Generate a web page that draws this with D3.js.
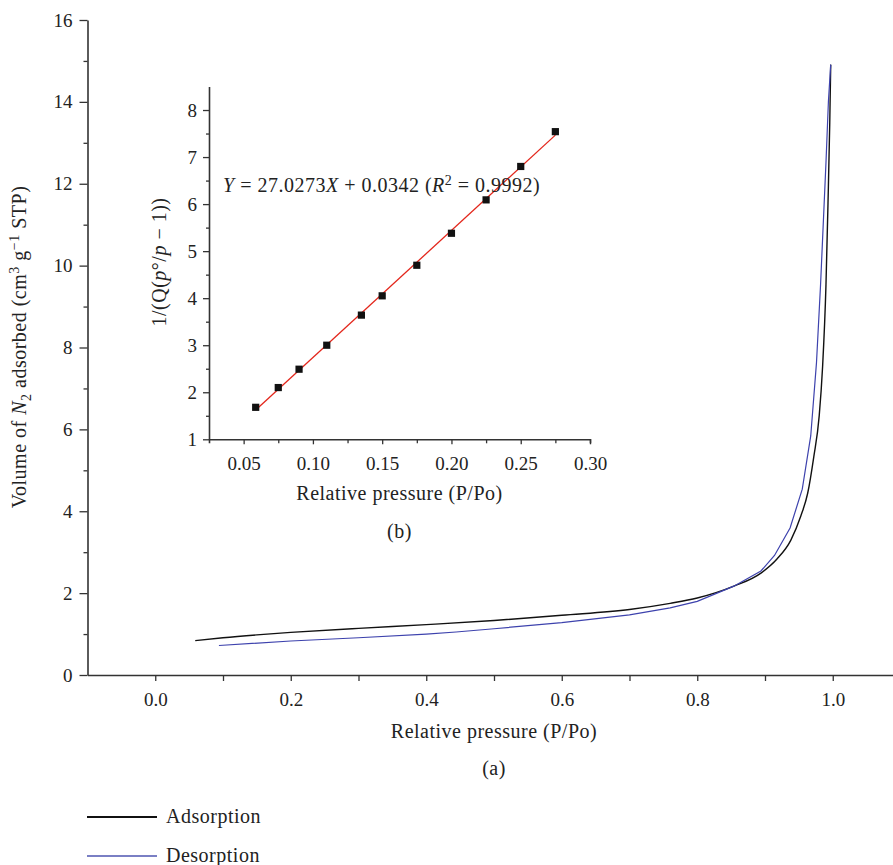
<!DOCTYPE html>
<html>
<head>
<meta charset="utf-8">
<script src="https://cdn.jsdelivr.net/npm/d3@7"></script>
<style>
  html, body { margin: 0; padding: 0; background: #fff; }
  svg { display: block; }
  text { font-family: "Liberation Serif", "DejaVu Serif", serif; fill: #222; }
  .title { letter-spacing: 0.5px; }
</style>
</head>
<body>
<svg id="chart" width="893" height="865"></svg>
<script>
// N2 adsorption isotherm (relative pressure vs adsorbed volume)
const adsPressure = [0.059, 0.10, 0.15, 0.20, 0.30, 0.40, 0.50, 0.60, 0.70, 0.76, 0.80, 0.854, 0.894, 0.918, 0.938, 0.953, 0.963, 0.972, 0.980, 0.985, 0.990, 0.993, 0.9956, 0.997];
const adsVolume   = [0.84, 0.91, 0.98, 1.04, 1.14, 1.23, 1.33, 1.46, 1.60, 1.75, 1.88, 2.17, 2.49, 2.84, 3.29, 3.89, 4.44, 5.33, 6.33, 7.53, 9.53, 11.53, 13.5, 14.91];
// desorption branch
const desPressure = [0.094, 0.20, 0.30, 0.40, 0.444, 0.50, 0.60, 0.70, 0.76, 0.80, 0.854, 0.894, 0.914, 0.937, 0.955, 0.9675, 0.976, 0.982, 0.990, 0.9936, 0.997];
const desVolume   = [0.72, 0.83, 0.91, 1.00, 1.05, 1.13, 1.28, 1.47, 1.64, 1.80, 2.17, 2.54, 2.92, 3.59, 4.54, 5.84, 7.63, 9.53, 12.52, 14.01, 14.91];

// BET plot points
const betPressure = [0.0587, 0.075, 0.09, 0.11, 0.135, 0.15, 0.175, 0.20, 0.225, 0.25, 0.275];
const betValue    = [1.68, 2.10, 2.49, 3.00, 3.64, 4.05, 4.70, 5.38, 6.09, 6.80, 7.54];
const fitSlope = 27.0273, fitIntercept = 0.0342, fitR2 = 0.9992;

const mainXTicks = [0.0, 0.1, 0.2, 0.3, 0.4, 0.5, 0.6, 0.7, 0.8, 0.9, 1.0];
const mainYTicks = [0, 2, 4, 6, 8, 10, 12, 14, 16];
const insetXTicks = [0.05, 0.10, 0.15, 0.20, 0.25, 0.30];
const insetYTicks = [1, 2, 3, 4, 5, 6, 7, 8];

const legendItems = ["Adsorption", "Desorption"];

const svg = d3.select("#chart");
const axisColor = "#333";
const adsColor = "#111";
const desColor = "#3d42ad";
const tickFont = 19;
const titleFont = 20;

// ---------- main isotherm ----------
const x = d3.scaleLinear().domain([-0.1, 1.1]).range([87.5, 900.5]);
const y = d3.scaleLinear().domain([0, 16]).range([675, 20]);

function styleAxis(g) {
  g.selectAll("path.domain").attr("stroke", axisColor).attr("stroke-width", 1.6);
  g.selectAll(".tick line").attr("stroke", axisColor).attr("stroke-width", 1.3);
  g.selectAll(".tick text").style("font-family", '"Liberation Serif", serif')
    .attr("fill", "#222").attr("font-size", tickFont);
}

// minor y ticks
svg.append("g").attr("transform", "translate(87.5,0)")
  .call(d3.axisLeft(y).tickValues(d3.range(1, 16, 2)).tickSize(4).tickFormat(""))
  .call(styleAxis).call(g => g.select("path.domain").remove());
svg.append("g").attr("transform", "translate(87.5,0)")
  .call(d3.axisLeft(y).tickValues(mainYTicks).tickSize(8).tickSizeOuter(0).tickPadding(7).tickFormat(d3.format("d")))
  .call(styleAxis);

svg.append("g").attr("transform", "translate(0,675)")
  .call(d3.axisBottom(x).tickValues(mainXTicks).tickSize(6).tickSizeOuter(0).tickPadding(12)
    .tickFormat(d => (Math.round(d * 10) % 2 === 0) ? d3.format(".1f")(d) : ""))
  .call(styleAxis);

const pts = (px, py) => px.map((p, i) => [p, py[i]]);
svg.append("path")
  .datum(pts(adsPressure, adsVolume))
  .attr("fill", "none").attr("stroke", adsColor).attr("stroke-width", 1.4)
  .attr("d", d3.line().x(d => x(d[0])).y(d => y(d[1])).curve(d3.curveMonotoneX));
svg.append("path")
  .datum(pts(desPressure, desVolume))
  .attr("fill", "none").attr("stroke", desColor).attr("stroke-width", 1.2)
  .attr("d", d3.line().x(d => x(d[0])).y(d => y(d[1])));

// main axis titles
svg.append("text").attr("class", "title").attr("x", 494).attr("y", 738).attr("text-anchor", "middle")
  .attr("font-size", titleFont).text("Relative pressure (P/Po)");
svg.append("text").attr("class", "title").attr("x", 494).attr("y", 775).attr("text-anchor", "middle")
  .attr("font-size", titleFont).text("(a)");

const yTitle = svg.append("text").attr("class", "title").attr("transform", "translate(26,347) rotate(-90)")
  .attr("text-anchor", "middle").attr("font-size", titleFont);
yTitle.append("tspan").text("Volume of ");
yTitle.append("tspan").attr("font-style", "italic").text("N");
yTitle.append("tspan").attr("font-size", 14).attr("dy", 5).text("2");
yTitle.append("tspan").attr("dy", -5).text(" adsorbed (cm");
yTitle.append("tspan").attr("font-size", 14).attr("dy", -7).text("3");
yTitle.append("tspan").attr("dy", 7).text(" g");
yTitle.append("tspan").attr("font-size", 14).attr("dy", -7).text("\u22121");
yTitle.append("tspan").attr("dy", 7).text(" STP)");

// ---------- inset BET plot ----------
const ix = d3.scaleLinear().domain([0.025, 0.30]).range([209, 590]);
const iy = d3.scaleLinear().domain([1, 8.5]).range([439.3, 86.5]);

svg.append("g").attr("transform", "translate(209,0)")
  .call(d3.axisLeft(iy).tickValues(d3.range(1.5, 8.5, 1)).tickSize(3).tickFormat(""))
  .call(styleAxis).call(g => g.select("path.domain").remove());
svg.append("g").attr("transform", "translate(209,0)")
  .call(d3.axisLeft(iy).tickValues(insetYTicks).tickSize(6).tickSizeOuter(0).tickPadding(6).tickFormat(d3.format("d")))
  .call(styleAxis);

svg.append("g").attr("transform", "translate(0,439.3)")
  .call(d3.axisBottom(ix).tickValues(d3.range(0.075, 0.3, 0.05)).tickSize(4).tickFormat(""))
  .call(styleAxis).call(g => g.select("path.domain").remove());
svg.append("g").attr("transform", "translate(0,439.3)")
  .call(d3.axisBottom(ix).tickValues(insetXTicks).tickSize(5).tickSizeOuter(4).tickPadding(12).tickFormat(d3.format(".2f")))
  .call(styleAxis);

// fitted line across the measured range
const fitX = d3.extent(betPressure);
svg.append("line")
  .attr("x1", ix(fitX[0])).attr("y1", iy(fitSlope * fitX[0] + fitIntercept))
  .attr("x2", ix(fitX[1])).attr("y2", iy(fitSlope * fitX[1] + fitIntercept))
  .attr("stroke", "#e3261b").attr("stroke-width", 1.3);

svg.append("g").selectAll("rect")
  .data(pts(betPressure, betValue))
  .join("rect")
  .attr("x", d => ix(d[0]) - 3.6).attr("y", d => iy(d[1]) - 3.6)
  .attr("width", 7.2).attr("height", 7.2).attr("fill", "#111");

const eq = svg.append("text").attr("class", "title").attr("x", 223).attr("y", 192).attr("font-size", titleFont);
eq.append("tspan").attr("font-style", "italic").text("Y");
eq.append("tspan").text(" = " + fitSlope.toFixed(4));
eq.append("tspan").attr("font-style", "italic").text("X");
eq.append("tspan").text(" + " + fitIntercept.toFixed(4) + " (");
eq.append("tspan").attr("font-style", "italic").text("R");
eq.append("tspan").attr("font-size", 14).attr("dy", -7).text("2");
eq.append("tspan").attr("dy", 7).text(" = " + fitR2.toFixed(4) + ")");

svg.append("text").attr("class", "title").attr("x", 399.5).attr("y", 500).attr("text-anchor", "middle")
  .attr("font-size", titleFont).text("Relative pressure (P/Po)");
svg.append("text").attr("class", "title").attr("x", 399.5).attr("y", 538).attr("text-anchor", "middle")
  .attr("font-size", titleFont).text("(b)");

const iyTitle = svg.append("text").attr("class", "title").attr("transform", "translate(166,262) rotate(-90)")
  .attr("text-anchor", "middle").attr("font-size", titleFont);
iyTitle.append("tspan").text("1/(Q(");
iyTitle.append("tspan").attr("font-style", "italic").text("p");
iyTitle.append("tspan").text("\u00B0/");
iyTitle.append("tspan").attr("font-style", "italic").text("p");
iyTitle.append("tspan").text(" \u2212 1))");

// ---------- legend ----------
const legendColors = [adsColor, "#7a7fc4"];
const lg = svg.append("g").selectAll("g").data(legendItems).join("g")
  .attr("transform", (d, i) => `translate(87,${817 + i * 39})`);
lg.append("line").attr("x1", 0).attr("x2", 70).attr("y1", 0).attr("y2", 0)
  .attr("stroke", (d, i) => legendColors[i]).attr("stroke-width", 1.8);
lg.append("text").attr("class", "title").attr("x", 79).attr("y", 6).attr("font-size", titleFont).text(d => d);
</script>
</body>
</html>
